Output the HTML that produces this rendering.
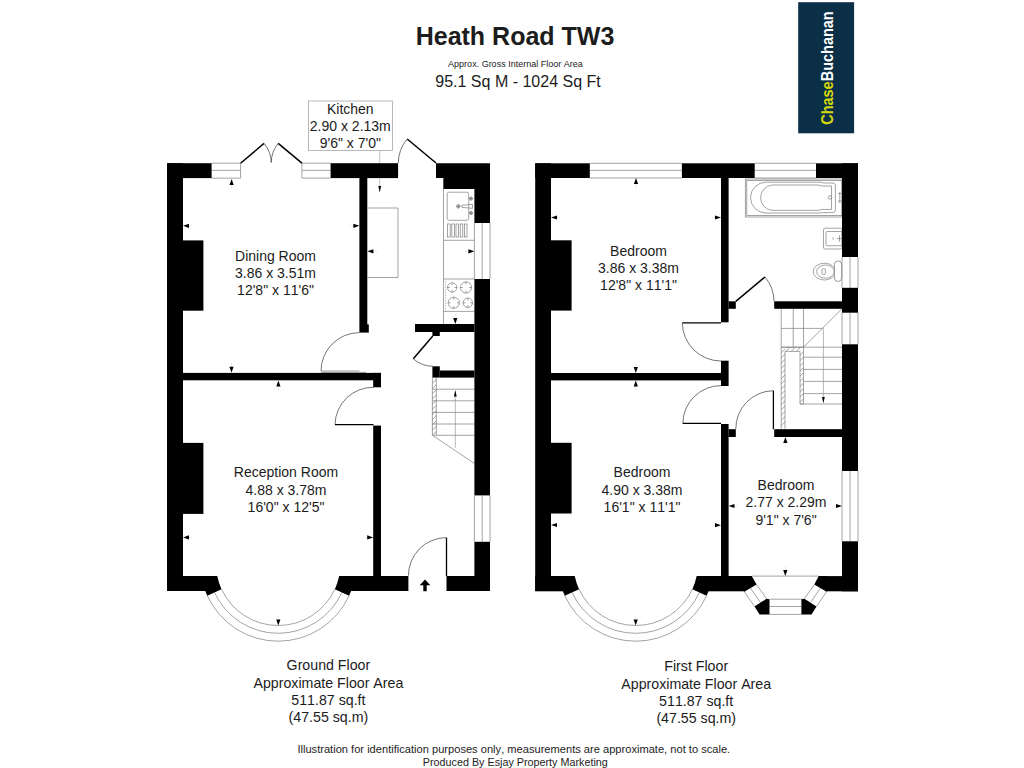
<!DOCTYPE html>
<html><head><meta charset="utf-8"><title>Heath Road TW3</title>
<style>
html,body{margin:0;padding:0;background:#fff;}
body{width:1024px;height:768px;overflow:hidden;font-family:"Liberation Sans",sans-serif;}
svg{display:block;}
text{font-family:"Liberation Sans",sans-serif;fill:#1c1c1c;font-kerning:none;}
</style></head><body>
<svg width="1024" height="768" viewBox="0 0 1024 768">
<rect width="1024" height="768" fill="#fff"/>
<text x="515" y="44.7" font-size="25" font-weight="bold" text-anchor="middle" fill="#000" style="font-kerning:normal">Heath Road TW3</text>
<text x="515.4" y="66.7" font-size="9" text-anchor="middle" fill="#111">Approx. Gross Internal Floor Area</text>
<text x="518" y="87.3" font-size="16" text-anchor="middle" fill="#111">95.1 Sq M - 1024 Sq Ft</text>
<rect x="798.2" y="2.2" width="55.9" height="131.1" fill="#0c2f48"/>
<g transform="translate(832.5,124.8) rotate(-90)"><text x="0" y="0" font-size="17.4" font-weight="bold" textLength="113.5" lengthAdjust="spacingAndGlyphs"><tspan fill="#d3d80c">Chase</tspan><tspan fill="#fff">Buchanan</tspan></text></g>
<g id="ground">
<line x1="211.60" y1="163.20" x2="240.60" y2="163.20" stroke="#7c7c7c" stroke-width="0.7" fill="none"/>
<line x1="211.60" y1="178.10" x2="240.60" y2="178.10" stroke="#7c7c7c" stroke-width="0.7" fill="none"/>
<line x1="211.60" y1="170.35" x2="240.60" y2="170.35" stroke="#7c7c7c" stroke-width="0.7" fill="none"/>
<line x1="240.60" y1="163.20" x2="240.60" y2="178.10" stroke="#7c7c7c" stroke-width="0.7" fill="none"/>
<line x1="301.90" y1="163.20" x2="330.60" y2="163.20" stroke="#7c7c7c" stroke-width="0.7" fill="none"/>
<line x1="301.90" y1="178.10" x2="330.60" y2="178.10" stroke="#7c7c7c" stroke-width="0.7" fill="none"/>
<line x1="301.90" y1="170.35" x2="330.60" y2="170.35" stroke="#7c7c7c" stroke-width="0.7" fill="none"/>
<line x1="301.90" y1="163.20" x2="301.90" y2="178.10" stroke="#7c7c7c" stroke-width="0.7" fill="none"/>
<rect x="308.50" y="101.00" width="84.00" height="49.50" fill="#fff" stroke="#9a9a9a" stroke-width="0.7"/>
<line x1="379.70" y1="150.50" x2="379.70" y2="187.00" stroke="#999" stroke-width="0.6"/>
<path d="M367.5,208 H398 V277.5 H367.5" stroke="#7c7c7c" stroke-width="0.7" fill="none"/>
<line x1="443.50" y1="178.00" x2="443.50" y2="324.00" stroke="#7c7c7c" stroke-width="0.7" fill="none"/>
<line x1="443.50" y1="240.30" x2="474.40" y2="240.30" stroke="#7c7c7c" stroke-width="0.7" fill="none"/>
<line x1="443.50" y1="279.00" x2="474.40" y2="279.00" stroke="#7c7c7c" stroke-width="0.7" fill="none"/>
<line x1="443.50" y1="311.40" x2="474.40" y2="311.40" stroke="#7c7c7c" stroke-width="0.7" fill="none"/>
<rect x="447.2" y="192.2" width="21.5" height="28.1" rx="2" stroke="#7c7c7c" stroke-width="0.7" fill="none"/>
<rect x="447.60" y="224" width="2.6" height="13" stroke="#7c7c7c" stroke-width="0.7" fill="none"/>
<rect x="451.80" y="224" width="2.6" height="13" stroke="#7c7c7c" stroke-width="0.7" fill="none"/>
<rect x="456.00" y="224" width="2.6" height="13" stroke="#7c7c7c" stroke-width="0.7" fill="none"/>
<rect x="460.20" y="224" width="2.6" height="13" stroke="#7c7c7c" stroke-width="0.7" fill="none"/>
<rect x="464.40" y="224" width="2.6" height="13" stroke="#7c7c7c" stroke-width="0.7" fill="none"/>
<circle cx="471" cy="198.6" r="1.5" stroke="#7c7c7c" stroke-width="0.7" fill="none"/><circle cx="471" cy="213" r="1.5" stroke="#7c7c7c" stroke-width="0.7" fill="none"/><circle cx="458.3" cy="206.3" r="1.6" stroke="#7c7c7c" stroke-width="0.7" fill="none"/>
<path d="M462,205.2 L472.5,204.3 V208.3 L462,207.4 Z" stroke="#7c7c7c" stroke-width="0.7" fill="none"/>
<path d="M469,198.6 H473 M471,196.6 V200.6 M469,213 H473 M471,211 V215 M456,206.3 H460.6 M458.3,204 V208.6" stroke="#555" stroke-width="0.6" fill="none"/>
<circle cx="452.2" cy="287.5" r="4.7" stroke="#7c7c7c" stroke-width="0.7" fill="none"/>
<line x1="454.50" y1="287.50" x2="457.30" y2="287.50" stroke="#7c7c7c" stroke-width="0.7" fill="none"/>
<line x1="449.90" y1="287.50" x2="447.10" y2="287.50" stroke="#7c7c7c" stroke-width="0.7" fill="none"/>
<line x1="452.20" y1="289.80" x2="452.20" y2="292.60" stroke="#7c7c7c" stroke-width="0.7" fill="none"/>
<line x1="452.20" y1="285.20" x2="452.20" y2="282.40" stroke="#7c7c7c" stroke-width="0.7" fill="none"/>
<circle cx="466" cy="287.5" r="5.6" stroke="#7c7c7c" stroke-width="0.7" fill="none"/>
<line x1="469.20" y1="287.50" x2="472.00" y2="287.50" stroke="#7c7c7c" stroke-width="0.7" fill="none"/>
<line x1="462.80" y1="287.50" x2="460.00" y2="287.50" stroke="#7c7c7c" stroke-width="0.7" fill="none"/>
<line x1="466.00" y1="290.70" x2="466.00" y2="293.50" stroke="#7c7c7c" stroke-width="0.7" fill="none"/>
<line x1="466.00" y1="284.30" x2="466.00" y2="281.50" stroke="#7c7c7c" stroke-width="0.7" fill="none"/>
<circle cx="453.75" cy="302.8" r="5.6" stroke="#7c7c7c" stroke-width="0.7" fill="none"/>
<line x1="456.95" y1="302.80" x2="459.75" y2="302.80" stroke="#7c7c7c" stroke-width="0.7" fill="none"/>
<line x1="450.55" y1="302.80" x2="447.75" y2="302.80" stroke="#7c7c7c" stroke-width="0.7" fill="none"/>
<line x1="453.75" y1="306.00" x2="453.75" y2="308.80" stroke="#7c7c7c" stroke-width="0.7" fill="none"/>
<line x1="453.75" y1="299.60" x2="453.75" y2="296.80" stroke="#7c7c7c" stroke-width="0.7" fill="none"/>
<circle cx="467.8" cy="302.8" r="4.7" stroke="#7c7c7c" stroke-width="0.7" fill="none"/>
<line x1="470.10" y1="302.80" x2="472.90" y2="302.80" stroke="#7c7c7c" stroke-width="0.7" fill="none"/>
<line x1="465.50" y1="302.80" x2="462.70" y2="302.80" stroke="#7c7c7c" stroke-width="0.7" fill="none"/>
<line x1="467.80" y1="305.10" x2="467.80" y2="307.90" stroke="#7c7c7c" stroke-width="0.7" fill="none"/>
<line x1="467.80" y1="300.50" x2="467.80" y2="297.70" stroke="#7c7c7c" stroke-width="0.7" fill="none"/>
<line x1="445.60" y1="281.00" x2="445.60" y2="310.00" stroke="#888" stroke-width="0.6" stroke-dasharray="1.5,1.2"/>
<line x1="474.40" y1="223.00" x2="474.40" y2="279.00" stroke="#7c7c7c" stroke-width="0.7" fill="none"/>
<line x1="490.00" y1="223.00" x2="490.00" y2="279.00" stroke="#7c7c7c" stroke-width="0.7" fill="none"/>
<line x1="482.20" y1="223.00" x2="482.20" y2="279.00" stroke="#7c7c7c" stroke-width="0.7" fill="none"/>
<line x1="474.40" y1="495.40" x2="474.40" y2="541.80" stroke="#7c7c7c" stroke-width="0.7" fill="none"/>
<line x1="490.00" y1="495.40" x2="490.00" y2="541.80" stroke="#7c7c7c" stroke-width="0.7" fill="none"/>
<line x1="482.20" y1="495.40" x2="482.20" y2="541.80" stroke="#7c7c7c" stroke-width="0.7" fill="none"/>
<line x1="432.40" y1="389.20" x2="474.40" y2="389.20" stroke="#7c7c7c" stroke-width="0.7" fill="none"/>
<line x1="432.40" y1="400.80" x2="474.40" y2="400.80" stroke="#7c7c7c" stroke-width="0.7" fill="none"/>
<line x1="432.40" y1="412.40" x2="474.40" y2="412.40" stroke="#7c7c7c" stroke-width="0.7" fill="none"/>
<line x1="432.40" y1="424.00" x2="474.40" y2="424.00" stroke="#7c7c7c" stroke-width="0.7" fill="none"/>
<line x1="432.40" y1="435.30" x2="474.40" y2="435.30" stroke="#7c7c7c" stroke-width="0.7" fill="none"/>
<line x1="432.40" y1="377.60" x2="432.40" y2="435.30" stroke="#7c7c7c" stroke-width="0.7" fill="none"/>
<line x1="436.30" y1="377.60" x2="436.30" y2="435.30" stroke="#7c7c7c" stroke-width="0.7" fill="none"/>
<line x1="432.40" y1="383.10" x2="436.30" y2="379.50" stroke="#7c7c7c" stroke-width="0.7" fill="none"/>
<line x1="432.40" y1="388.30" x2="436.30" y2="384.70" stroke="#7c7c7c" stroke-width="0.7" fill="none"/>
<line x1="432.40" y1="393.50" x2="436.30" y2="389.90" stroke="#7c7c7c" stroke-width="0.7" fill="none"/>
<line x1="432.40" y1="398.70" x2="436.30" y2="395.10" stroke="#7c7c7c" stroke-width="0.7" fill="none"/>
<line x1="432.40" y1="403.90" x2="436.30" y2="400.30" stroke="#7c7c7c" stroke-width="0.7" fill="none"/>
<line x1="432.40" y1="409.10" x2="436.30" y2="405.50" stroke="#7c7c7c" stroke-width="0.7" fill="none"/>
<line x1="432.40" y1="414.30" x2="436.30" y2="410.70" stroke="#7c7c7c" stroke-width="0.7" fill="none"/>
<line x1="432.40" y1="419.50" x2="436.30" y2="415.90" stroke="#7c7c7c" stroke-width="0.7" fill="none"/>
<line x1="432.40" y1="424.70" x2="436.30" y2="421.10" stroke="#7c7c7c" stroke-width="0.7" fill="none"/>
<line x1="432.40" y1="429.90" x2="436.30" y2="426.30" stroke="#7c7c7c" stroke-width="0.7" fill="none"/>
<line x1="432.40" y1="435.10" x2="436.30" y2="431.50" stroke="#7c7c7c" stroke-width="0.7" fill="none"/>
<line x1="432.40" y1="435.30" x2="474.40" y2="463.50" stroke="#7c7c7c" stroke-width="0.7" fill="none"/>
<line x1="455.30" y1="394.00" x2="455.30" y2="447.80" stroke="#888" stroke-width="0.6"/>
<line x1="240.60" y1="163.20" x2="264.00" y2="143.40" stroke="#000" stroke-width="1.5"/>
<line x1="301.90" y1="163.20" x2="278.20" y2="143.40" stroke="#000" stroke-width="1.5"/>
<path d="M264,143.4 A30.65,30.65 0 0 1 271.25,162.5" stroke="#3a3a3a" stroke-width="0.7" fill="none"/>
<path d="M278.2,143.4 A30.65,30.65 0 0 0 271.25,162.5" stroke="#3a3a3a" stroke-width="0.7" fill="none"/>
<line x1="436.00" y1="163.00" x2="407.20" y2="139.00" stroke="#000" stroke-width="1.5"/>
<path d="M407.2,139 A37.7,37.7 0 0 0 398.3,163" stroke="#3a3a3a" stroke-width="0.7" fill="none"/>
<path d="M321,371 A38.5,38.5 0 0 1 359.5,332.6" stroke="#3a3a3a" stroke-width="0.7" fill="none"/>
<line x1="321.00" y1="371.00" x2="359.50" y2="371.00" stroke="#777" stroke-width="0.7"/>
<line x1="321.00" y1="372.40" x2="366.00" y2="372.40" stroke="#777" stroke-width="0.7"/>
<path d="M335,424.5 A38,38 0 0 1 373.5,387.3" stroke="#3a3a3a" stroke-width="0.7" fill="none"/>
<line x1="335.00" y1="424.60" x2="373.50" y2="424.60" stroke="#000" stroke-width="1.3"/>
<line x1="432.80" y1="336.00" x2="413.30" y2="358.80" stroke="#000" stroke-width="1.5"/>
<path d="M413.3,358.8 A30,30 0 0 0 432.8,366.3" stroke="#3a3a3a" stroke-width="0.7" fill="none"/>
<line x1="446.50" y1="576.00" x2="446.50" y2="537.60" stroke="#000" stroke-width="1.3"/>
<path d="M446.5,537.6 A38.1,38.1 0 0 0 408.4,575.7" stroke="#3a3a3a" stroke-width="0.7" fill="none"/>
<path d="M221.55,589.13 A62.3,62.3 0 0 0 334.85,589.13" stroke="#7c7c7c" stroke-width="0.7" fill="none"/>
<path d="M214.46,592.38 A70.1,70.1 0 0 0 341.94,592.38" stroke="#7c7c7c" stroke-width="0.7" fill="none"/>
<path d="M207.28,595.67 A78.0,78.0 0 0 0 349.12,595.67" stroke="#7c7c7c" stroke-width="0.7" fill="none"/>
<path d="M217.23,576.00 A62.3,62.3 0 0 0 221.55,589.13 L207.28,595.67 A78.0,78.0 0 0 1 205.32,591.00 L205.23,591.00 L205.23,576.00 Z" fill="#000"/>
<path d="M339.17,576.00 A62.3,62.3 0 0 1 334.85,589.13 L349.12,595.67 A78.0,78.0 0 0 0 351.08,591.00 L351.17,591.00 L351.17,576.00 Z" fill="#000"/>
<rect x="167.00" y="163.20" width="16.00" height="427.80" fill="#000"/>
<rect x="167.00" y="163.20" width="44.60" height="14.90" fill="#000"/>
<rect x="330.60" y="163.20" width="67.50" height="14.90" fill="#000"/>
<polygon points="436.00,163.20 490.00,163.20 490.00,223.00 474.40,223.00 474.40,189.00 443.50,189.00 443.50,178.10 436.00,178.10" fill="#000"/>
<rect x="474.40" y="279.00" width="15.60" height="216.40" fill="#000"/>
<rect x="474.40" y="541.80" width="15.60" height="49.20" fill="#000"/>
<rect x="167.00" y="576.00" width="43.00" height="15.00" fill="#000"/>
<rect x="346.00" y="576.00" width="62.40" height="15.00" fill="#000"/>
<rect x="446.50" y="576.00" width="43.50" height="15.00" fill="#000"/>
<rect x="359.40" y="178.00" width="7.90" height="154.60" fill="#000"/>
<rect x="367.00" y="324.40" width="1.80" height="8.20" fill="#000"/>
<rect x="183.00" y="372.90" width="198.00" height="7.40" fill="#000"/>
<rect x="373.20" y="372.90" width="7.80" height="14.40" fill="#000"/>
<rect x="373.20" y="425.60" width="7.80" height="150.40" fill="#000"/>
<rect x="415.00" y="324.00" width="59.40" height="8.00" fill="#000"/>
<rect x="432.40" y="332.00" width="7.40" height="4.00" fill="#000"/>
<rect x="432.40" y="366.30" width="7.40" height="11.30" fill="#000"/>
<rect x="439.80" y="370.50" width="34.60" height="7.10" fill="#000"/>
<rect x="183.00" y="240.40" width="20.40" height="70.30" fill="#000"/>
<rect x="183.00" y="442.90" width="20.40" height="71.00" fill="#000"/>
<line x1="231.60" y1="185.00" x2="231.60" y2="189.00" stroke="#dcdcdc" stroke-width="0.6"/>
<polygon points="231.60,179.00 229.50,185.00 233.70,185.00" fill="#000"/>
<line x1="189.00" y1="225.80" x2="193.00" y2="225.80" stroke="#dcdcdc" stroke-width="0.6"/>
<polygon points="183.00,225.80 189.00,223.70 189.00,227.90" fill="#000"/>
<line x1="353.40" y1="225.80" x2="349.40" y2="225.80" stroke="#dcdcdc" stroke-width="0.6"/>
<polygon points="359.40,225.80 353.40,223.70 353.40,227.90" fill="#000"/>
<line x1="373.40" y1="251.30" x2="377.40" y2="251.30" stroke="#dcdcdc" stroke-width="0.6"/>
<polygon points="367.40,251.30 373.40,249.20 373.40,253.40" fill="#000"/>
<line x1="468.40" y1="251.30" x2="464.40" y2="251.30" stroke="#dcdcdc" stroke-width="0.6"/>
<polygon points="474.40,251.30 468.40,249.20 468.40,253.40" fill="#000"/>
<line x1="379.70" y1="186.00" x2="379.70" y2="186.00" stroke="#dcdcdc" stroke-width="0.6"/>
<polygon points="379.70,192.60 378.30,186.00 381.10,186.00" fill="#000"/>
<line x1="455.30" y1="318.00" x2="455.30" y2="314.00" stroke="#dcdcdc" stroke-width="0.6"/>
<polygon points="455.30,324.00 453.20,318.00 457.40,318.00" fill="#000"/>
<line x1="455.30" y1="396.60" x2="455.30" y2="396.60" stroke="#dcdcdc" stroke-width="0.6"/>
<polygon points="455.30,390.00 453.90,396.60 456.70,396.60" fill="#000"/>
<line x1="231.50" y1="366.80" x2="231.50" y2="362.80" stroke="#dcdcdc" stroke-width="0.6"/>
<polygon points="231.50,372.80 229.40,366.80 233.60,366.80" fill="#000"/>
<line x1="278.40" y1="386.40" x2="278.40" y2="390.40" stroke="#dcdcdc" stroke-width="0.6"/>
<polygon points="278.40,380.40 276.30,386.40 280.50,386.40" fill="#000"/>
<line x1="189.00" y1="537.40" x2="193.00" y2="537.40" stroke="#dcdcdc" stroke-width="0.6"/>
<polygon points="183.00,537.40 189.00,535.30 189.00,539.50" fill="#000"/>
<line x1="367.20" y1="537.40" x2="363.20" y2="537.40" stroke="#dcdcdc" stroke-width="0.6"/>
<polygon points="373.20,537.40 367.20,535.30 367.20,539.50" fill="#000"/>
<line x1="278.30" y1="619.40" x2="278.30" y2="615.40" stroke="#dcdcdc" stroke-width="0.6"/>
<polygon points="278.30,625.40 276.20,619.40 280.40,619.40" fill="#000"/>
<polygon points="425.00,579.60 430.30,585.20 426.70,585.20 426.70,591.20 423.30,591.20 423.30,585.20 419.70,585.20" fill="#000"/>
<text x="350.30" y="113.50" font-size="14" text-anchor="middle" >Kitchen</text>
<text x="350.30" y="130.50" font-size="14" text-anchor="middle" >2.90 x 2.13m</text>
<text x="350.30" y="147.50" font-size="14" text-anchor="middle" >9'6" x 7'0"</text>
<text x="275.50" y="261.00" font-size="14" text-anchor="middle" >Dining Room</text>
<text x="275.50" y="278.00" font-size="14" text-anchor="middle" >3.86 x 3.51m</text>
<text x="275.50" y="295.00" font-size="14" text-anchor="middle" >12'8" x 11'6"</text>
<text x="286.00" y="477.30" font-size="14" text-anchor="middle" >Reception Room</text>
<text x="286.00" y="494.80" font-size="14" text-anchor="middle" >4.88 x 3.78m</text>
<text x="286.00" y="512.00" font-size="14" text-anchor="middle" >16'0" x 12'5"</text>
<text x="328.40" y="670.10" font-size="14.2" text-anchor="middle" >Ground Floor</text>
<text x="328.40" y="687.50" font-size="14.2" text-anchor="middle" >Approximate Floor Area</text>
<text x="328.40" y="704.70" font-size="14.2" text-anchor="middle" >511.87 sq.ft</text>
<text x="328.40" y="721.90" font-size="14.2" text-anchor="middle" >(47.55 sq.m)</text>
</g>
<g id="first">
<line x1="589.80" y1="163.30" x2="681.90" y2="163.30" stroke="#7c7c7c" stroke-width="0.7" fill="none"/>
<line x1="589.80" y1="178.00" x2="681.90" y2="178.00" stroke="#7c7c7c" stroke-width="0.7" fill="none"/>
<line x1="589.80" y1="170.36" x2="681.90" y2="170.36" stroke="#7c7c7c" stroke-width="0.7" fill="none"/>
<line x1="754.70" y1="163.30" x2="816.00" y2="163.30" stroke="#7c7c7c" stroke-width="0.7" fill="none"/>
<line x1="754.70" y1="178.00" x2="816.00" y2="178.00" stroke="#7c7c7c" stroke-width="0.7" fill="none"/>
<line x1="754.70" y1="170.36" x2="816.00" y2="170.36" stroke="#7c7c7c" stroke-width="0.7" fill="none"/>
<line x1="842.00" y1="257.00" x2="842.00" y2="287.80" stroke="#7c7c7c" stroke-width="0.7" fill="none"/>
<line x1="858.00" y1="257.00" x2="858.00" y2="287.80" stroke="#7c7c7c" stroke-width="0.7" fill="none"/>
<line x1="850.00" y1="257.00" x2="850.00" y2="287.80" stroke="#7c7c7c" stroke-width="0.7" fill="none"/>
<line x1="842.00" y1="312.70" x2="842.00" y2="344.30" stroke="#7c7c7c" stroke-width="0.7" fill="none"/>
<line x1="858.00" y1="312.70" x2="858.00" y2="344.30" stroke="#7c7c7c" stroke-width="0.7" fill="none"/>
<line x1="850.00" y1="312.70" x2="850.00" y2="344.30" stroke="#7c7c7c" stroke-width="0.7" fill="none"/>
<line x1="842.00" y1="471.00" x2="842.00" y2="541.30" stroke="#7c7c7c" stroke-width="0.7" fill="none"/>
<line x1="858.00" y1="471.00" x2="858.00" y2="541.30" stroke="#7c7c7c" stroke-width="0.7" fill="none"/>
<line x1="850.00" y1="471.00" x2="850.00" y2="541.30" stroke="#7c7c7c" stroke-width="0.7" fill="none"/>
<rect x="745.3" y="179" width="96.7" height="38" stroke="#7c7c7c" stroke-width="0.7" fill="none"/>
<rect x="746.8" y="180.4" width="95.2" height="35.2" stroke="#7c7c7c" stroke-width="0.7" fill="none"/>
<path d="M766,182.2 H820 Q824,183.4 827,183 H833 Q835.4,183 835.4,186 V209.5 Q835.4,212.6 833,212.6 H827 Q824,212.2 820,213 H766 A15.5,15.4 0 0 1 766,182.2 Z" stroke="#7c7c7c" stroke-width="0.7" fill="none"/>
<path d="M772,185 A13,12.8 0 0 0 772,210.4" stroke="#7c7c7c" stroke-width="0.7" fill="none"/>
<path d="M772,185 H818 Q822,186.4 826,186 H831.5 V209.4 H826 Q822,209 818,210.4 H772" stroke="#7c7c7c" stroke-width="0.7" fill="none"/>
<circle cx="830" cy="197.4" r="1.8" stroke="#7c7c7c" stroke-width="0.7" fill="none"/>
<path d="M838,193.6 H841.6 M838,201 H841.6 M839.8,192 V203" stroke="#7c7c7c" stroke-width="0.7" fill="none"/>
<rect x="823.5" y="228.2" width="18.5" height="20.8" rx="1.5" stroke="#7c7c7c" stroke-width="0.7" fill="none"/>
<rect x="826" y="231.5" width="16" height="14.2" rx="1" stroke="#7c7c7c" stroke-width="0.7" fill="none"/>
<path d="M837,238.6 H841.5 M839.5,235.5 V241.8 M833,237.5 V239.6" stroke="#7c7c7c" stroke-width="0.7" fill="none"/>
<ellipse cx="824.4" cy="271.6" rx="11.2" ry="8.4" stroke="#7c7c7c" stroke-width="0.7" fill="none"/>
<ellipse cx="825.4" cy="271.6" rx="8.8" ry="6.6" stroke="#7c7c7c" stroke-width="0.7" fill="none"/>
<rect x="822" y="268.6" width="3.4" height="6" rx="1.5" stroke="#7c7c7c" stroke-width="0.7" fill="none"/>
<rect x="834.4" y="261" width="7.2" height="20.4" rx="3.4" fill="#fff" stroke="#6e6e6e" stroke-width="0.7"/>
<line x1="781.20" y1="308.70" x2="781.20" y2="347.20" stroke="#7c7c7c" stroke-width="0.7" fill="none"/>
<line x1="793.20" y1="308.70" x2="793.20" y2="347.20" stroke="#7c7c7c" stroke-width="0.7" fill="none"/>
<line x1="803.50" y1="308.70" x2="803.50" y2="347.20" stroke="#7c7c7c" stroke-width="0.7" fill="none"/>
<line x1="781.20" y1="328.40" x2="822.20" y2="328.40" stroke="#7c7c7c" stroke-width="0.7" fill="none"/>
<line x1="781.20" y1="347.20" x2="803.50" y2="347.20" stroke="#7c7c7c" stroke-width="0.7" fill="none"/>
<line x1="842.00" y1="308.70" x2="803.50" y2="347.20" stroke="#7c7c7c" stroke-width="0.7" fill="none"/>
<line x1="803.50" y1="357.20" x2="842.00" y2="357.20" stroke="#7c7c7c" stroke-width="0.7" fill="none"/>
<line x1="803.50" y1="369.40" x2="842.00" y2="369.40" stroke="#7c7c7c" stroke-width="0.7" fill="none"/>
<line x1="803.50" y1="381.40" x2="842.00" y2="381.40" stroke="#7c7c7c" stroke-width="0.7" fill="none"/>
<line x1="803.50" y1="393.60" x2="842.00" y2="393.60" stroke="#7c7c7c" stroke-width="0.7" fill="none"/>
<line x1="800.00" y1="404.00" x2="842.00" y2="404.00" stroke="#7c7c7c" stroke-width="0.7" fill="none"/>
<line x1="823.40" y1="327.40" x2="823.40" y2="398.00" stroke="#888" stroke-width="0.6"/>
<path d="M781.2,428.6 V347.2 H803.5 V404 H800 V351.4 H785 V428.6" stroke="#7c7c7c" stroke-width="0.7" fill="none"/>
<line x1="781.20" y1="352.60" x2="785.00" y2="349.00" stroke="#7c7c7c" stroke-width="0.7" fill="none"/>
<line x1="781.20" y1="357.80" x2="785.00" y2="354.20" stroke="#7c7c7c" stroke-width="0.7" fill="none"/>
<line x1="781.20" y1="363.00" x2="785.00" y2="359.40" stroke="#7c7c7c" stroke-width="0.7" fill="none"/>
<line x1="781.20" y1="368.20" x2="785.00" y2="364.60" stroke="#7c7c7c" stroke-width="0.7" fill="none"/>
<line x1="781.20" y1="373.40" x2="785.00" y2="369.80" stroke="#7c7c7c" stroke-width="0.7" fill="none"/>
<line x1="781.20" y1="378.60" x2="785.00" y2="375.00" stroke="#7c7c7c" stroke-width="0.7" fill="none"/>
<line x1="781.20" y1="383.80" x2="785.00" y2="380.20" stroke="#7c7c7c" stroke-width="0.7" fill="none"/>
<line x1="781.20" y1="389.00" x2="785.00" y2="385.40" stroke="#7c7c7c" stroke-width="0.7" fill="none"/>
<line x1="781.20" y1="394.20" x2="785.00" y2="390.60" stroke="#7c7c7c" stroke-width="0.7" fill="none"/>
<line x1="781.20" y1="399.40" x2="785.00" y2="395.80" stroke="#7c7c7c" stroke-width="0.7" fill="none"/>
<line x1="781.20" y1="404.60" x2="785.00" y2="401.00" stroke="#7c7c7c" stroke-width="0.7" fill="none"/>
<line x1="781.20" y1="409.80" x2="785.00" y2="406.20" stroke="#7c7c7c" stroke-width="0.7" fill="none"/>
<line x1="781.20" y1="415.00" x2="785.00" y2="411.40" stroke="#7c7c7c" stroke-width="0.7" fill="none"/>
<line x1="781.20" y1="420.20" x2="785.00" y2="416.60" stroke="#7c7c7c" stroke-width="0.7" fill="none"/>
<line x1="781.20" y1="425.40" x2="785.00" y2="421.80" stroke="#7c7c7c" stroke-width="0.7" fill="none"/>
<line x1="800.00" y1="355.40" x2="803.50" y2="352.00" stroke="#7c7c7c" stroke-width="0.7" fill="none"/>
<line x1="800.00" y1="360.60" x2="803.50" y2="357.20" stroke="#7c7c7c" stroke-width="0.7" fill="none"/>
<line x1="800.00" y1="365.80" x2="803.50" y2="362.40" stroke="#7c7c7c" stroke-width="0.7" fill="none"/>
<line x1="800.00" y1="371.00" x2="803.50" y2="367.60" stroke="#7c7c7c" stroke-width="0.7" fill="none"/>
<line x1="800.00" y1="376.20" x2="803.50" y2="372.80" stroke="#7c7c7c" stroke-width="0.7" fill="none"/>
<line x1="800.00" y1="381.40" x2="803.50" y2="378.00" stroke="#7c7c7c" stroke-width="0.7" fill="none"/>
<line x1="800.00" y1="386.60" x2="803.50" y2="383.20" stroke="#7c7c7c" stroke-width="0.7" fill="none"/>
<line x1="800.00" y1="391.80" x2="803.50" y2="388.40" stroke="#7c7c7c" stroke-width="0.7" fill="none"/>
<line x1="800.00" y1="397.00" x2="803.50" y2="393.60" stroke="#7c7c7c" stroke-width="0.7" fill="none"/>
<line x1="800.00" y1="402.20" x2="803.50" y2="398.80" stroke="#7c7c7c" stroke-width="0.7" fill="none"/>
<line x1="786.00" y1="351.40" x2="790.00" y2="347.20" stroke="#7c7c7c" stroke-width="0.7" fill="none"/>
<line x1="791.20" y1="351.40" x2="795.20" y2="347.20" stroke="#7c7c7c" stroke-width="0.7" fill="none"/>
<line x1="796.40" y1="351.40" x2="800.40" y2="347.20" stroke="#7c7c7c" stroke-width="0.7" fill="none"/>
<line x1="803.50" y1="347.20" x2="842.00" y2="347.20" stroke="#7c7c7c" stroke-width="0.7" fill="none"/>
<line x1="735.80" y1="301.40" x2="765.00" y2="277.00" stroke="#000" stroke-width="1.5"/>
<path d="M765,277 A38,38 0 0 1 774,301.2" stroke="#3a3a3a" stroke-width="0.7" fill="none"/>
<line x1="682.30" y1="322.80" x2="721.00" y2="322.80" stroke="#000" stroke-width="1.3"/>
<path d="M682.3,322.8 A38.6,38.6 0 0 0 721,361" stroke="#3a3a3a" stroke-width="0.7" fill="none"/>
<line x1="682.80" y1="423.40" x2="721.00" y2="423.40" stroke="#000" stroke-width="1.3"/>
<path d="M682.8,423.4 A38.2,38.2 0 0 1 721,385.6" stroke="#3a3a3a" stroke-width="0.7" fill="none"/>
<line x1="773.40" y1="390.70" x2="773.40" y2="429.20" stroke="#000" stroke-width="1.3"/>
<path d="M773.4,390.7 A38,38 0 0 0 735.8,429.2" stroke="#3a3a3a" stroke-width="0.7" fill="none"/>
<path d="M579.05,589.13 A62.3,62.3 0 0 0 692.35,589.13" stroke="#7c7c7c" stroke-width="0.7" fill="none"/>
<path d="M571.96,592.38 A70.1,70.1 0 0 0 699.44,592.38" stroke="#7c7c7c" stroke-width="0.7" fill="none"/>
<path d="M564.78,595.67 A78.0,78.0 0 0 0 706.62,595.67" stroke="#7c7c7c" stroke-width="0.7" fill="none"/>
<path d="M574.73,576.00 A62.3,62.3 0 0 0 579.05,589.13 L564.78,595.67 A78.0,78.0 0 0 1 562.82,591.00 L562.73,591.00 L562.73,576.00 Z" fill="#000"/>
<path d="M696.67,576.00 A62.3,62.3 0 0 1 692.35,589.13 L706.62,595.67 A78.0,78.0 0 0 0 708.58,591.00 L708.67,591.00 L708.67,576.00 Z" fill="#000"/>
<line x1="751.70" y1="576.10" x2="818.70" y2="576.10" stroke="#7c7c7c" stroke-width="0.7" fill="none"/>
<line x1="756.60" y1="584.60" x2="766.50" y2="598.70" stroke="#7c7c7c" stroke-width="0.7" fill="none"/>
<line x1="744.30" y1="591.70" x2="754.50" y2="606.50" stroke="#7c7c7c" stroke-width="0.7" fill="none"/>
<line x1="750.45" y1="588.15" x2="760.50" y2="602.60" stroke="#7c7c7c" stroke-width="0.7" fill="none"/>
<line x1="814.30" y1="584.60" x2="804.40" y2="598.70" stroke="#7c7c7c" stroke-width="0.7" fill="none"/>
<line x1="826.60" y1="591.70" x2="816.50" y2="606.50" stroke="#7c7c7c" stroke-width="0.7" fill="none"/>
<line x1="820.45" y1="588.15" x2="810.45" y2="602.60" stroke="#7c7c7c" stroke-width="0.7" fill="none"/>
<line x1="769.50" y1="599.20" x2="801.40" y2="599.20" stroke="#7c7c7c" stroke-width="0.7" fill="none"/>
<line x1="769.50" y1="614.40" x2="801.40" y2="614.40" stroke="#7c7c7c" stroke-width="0.7" fill="none"/>
<line x1="769.50" y1="606.50" x2="801.40" y2="606.50" stroke="#7c7c7c" stroke-width="0.7" fill="none"/>
<rect x="535.20" y="163.30" width="15.80" height="427.70" fill="#000"/>
<rect x="535.20" y="163.30" width="54.60" height="14.70" fill="#000"/>
<rect x="681.90" y="163.30" width="72.80" height="14.70" fill="#000"/>
<rect x="816.00" y="163.30" width="42.00" height="14.70" fill="#000"/>
<rect x="842.00" y="163.30" width="16.00" height="93.70" fill="#000"/>
<rect x="842.00" y="287.80" width="16.00" height="24.90" fill="#000"/>
<rect x="842.00" y="344.30" width="16.00" height="126.70" fill="#000"/>
<rect x="842.00" y="541.30" width="16.00" height="50.00" fill="#000"/>
<rect x="721.00" y="178.00" width="7.60" height="144.30" fill="#000"/>
<rect x="728.50" y="301.30" width="7.30" height="7.50" fill="#000"/>
<rect x="774.20" y="301.30" width="67.80" height="7.50" fill="#000"/>
<rect x="551.00" y="373.00" width="170.00" height="7.40" fill="#000"/>
<rect x="721.00" y="360.70" width="7.60" height="25.30" fill="#000"/>
<rect x="721.00" y="424.00" width="7.60" height="152.20" fill="#000"/>
<rect x="728.50" y="429.20" width="7.30" height="7.80" fill="#000"/>
<rect x="774.20" y="429.20" width="67.80" height="7.80" fill="#000"/>
<rect x="551.00" y="240.30" width="20.60" height="70.30" fill="#000"/>
<rect x="551.00" y="442.80" width="20.60" height="70.70" fill="#000"/>
<rect x="535.20" y="576.00" width="30.80" height="15.30" fill="#000"/>
<rect x="704.00" y="576.00" width="41.00" height="15.30" fill="#000"/>
<polygon points="744.00,576.10 751.70,576.10 756.60,584.60 744.30,591.70 744.00,591.30" fill="#000"/>
<polygon points="827.00,576.10 818.70,576.10 814.30,584.60 826.60,591.70 827.00,591.30" fill="#000"/>
<rect x="826.00" y="576.10" width="32.00" height="15.20" fill="#000"/>
<polygon points="766.50,598.70 769.50,599.20 769.50,614.40 759.60,614.40 754.50,606.50" fill="#000"/>
<polygon points="804.40,598.70 801.40,599.20 801.40,614.40 811.50,614.40 816.50,606.50" fill="#000"/>
<line x1="636.00" y1="184.00" x2="636.00" y2="188.00" stroke="#dcdcdc" stroke-width="0.6"/>
<polygon points="636.00,178.00 633.90,184.00 638.10,184.00" fill="#000"/>
<line x1="557.00" y1="217.50" x2="561.00" y2="217.50" stroke="#dcdcdc" stroke-width="0.6"/>
<polygon points="551.00,217.50 557.00,215.40 557.00,219.60" fill="#000"/>
<line x1="715.00" y1="217.50" x2="711.00" y2="217.50" stroke="#dcdcdc" stroke-width="0.6"/>
<polygon points="721.00,217.50 715.00,215.40 715.00,219.60" fill="#000"/>
<line x1="635.80" y1="367.00" x2="635.80" y2="363.00" stroke="#dcdcdc" stroke-width="0.6"/>
<polygon points="635.80,373.00 633.70,367.00 637.90,367.00" fill="#000"/>
<line x1="635.80" y1="386.40" x2="635.80" y2="390.40" stroke="#dcdcdc" stroke-width="0.6"/>
<polygon points="635.80,380.40 633.70,386.40 637.90,386.40" fill="#000"/>
<line x1="557.00" y1="525.00" x2="561.00" y2="525.00" stroke="#dcdcdc" stroke-width="0.6"/>
<polygon points="551.00,525.00 557.00,522.90 557.00,527.10" fill="#000"/>
<line x1="715.00" y1="525.20" x2="711.00" y2="525.20" stroke="#dcdcdc" stroke-width="0.6"/>
<polygon points="721.00,525.20 715.00,523.10 715.00,527.30" fill="#000"/>
<line x1="635.70" y1="619.40" x2="635.70" y2="615.40" stroke="#dcdcdc" stroke-width="0.6"/>
<polygon points="635.70,625.40 633.60,619.40 637.80,619.40" fill="#000"/>
<line x1="734.50" y1="506.00" x2="738.50" y2="506.00" stroke="#dcdcdc" stroke-width="0.6"/>
<polygon points="728.50,506.00 734.50,503.90 734.50,508.10" fill="#000"/>
<line x1="836.00" y1="506.00" x2="832.00" y2="506.00" stroke="#dcdcdc" stroke-width="0.6"/>
<polygon points="842.00,506.00 836.00,503.90 836.00,508.10" fill="#000"/>
<line x1="785.40" y1="443.00" x2="785.40" y2="447.00" stroke="#dcdcdc" stroke-width="0.6"/>
<polygon points="785.40,437.00 783.30,443.00 787.50,443.00" fill="#000"/>
<line x1="785.30" y1="570.00" x2="785.30" y2="566.00" stroke="#dcdcdc" stroke-width="0.6"/>
<polygon points="785.30,576.00 783.20,570.00 787.40,570.00" fill="#000"/>
<line x1="823.40" y1="397.00" x2="823.40" y2="397.00" stroke="#dcdcdc" stroke-width="0.6"/>
<polygon points="823.40,403.60 822.00,397.00 824.80,397.00" fill="#000"/>
<text x="638.50" y="255.50" font-size="14" text-anchor="middle" >Bedroom</text>
<text x="638.50" y="272.60" font-size="14" text-anchor="middle" >3.86 x 3.38m</text>
<text x="638.50" y="289.50" font-size="14" text-anchor="middle" >12'8" x 11'1"</text>
<text x="642.00" y="477.20" font-size="14" text-anchor="middle" >Bedroom</text>
<text x="642.00" y="494.50" font-size="14" text-anchor="middle" >4.90 x 3.38m</text>
<text x="642.00" y="511.80" font-size="14" text-anchor="middle" >16'1" x 11'1"</text>
<text x="786.00" y="490.20" font-size="14" text-anchor="middle" >Bedroom</text>
<text x="786.00" y="507.40" font-size="14" text-anchor="middle" >2.77 x 2.29m</text>
<text x="786.00" y="524.60" font-size="14" text-anchor="middle" >9'1" x 7'6"</text>
<text x="696.20" y="671.10" font-size="14.2" text-anchor="middle" >First Floor</text>
<text x="696.20" y="688.50" font-size="14.2" text-anchor="middle" >Approximate Floor Area</text>
<text x="696.20" y="705.70" font-size="14.2" text-anchor="middle" >511.87 sq.ft</text>
<text x="696.20" y="723.10" font-size="14.2" text-anchor="middle" >(47.55 sq.m)</text>
</g>
<text x="297.4" y="752.5" font-size="10.9" textLength="432.8" lengthAdjust="spacingAndGlyphs" fill="#111">Illustration for identification purposes only, measurements are approximate, not to scale.</text>
<text x="422.8" y="765.5" font-size="10.9" textLength="185" lengthAdjust="spacingAndGlyphs" fill="#111">Produced By Esjay Property Marketing</text>
</svg></body></html>
